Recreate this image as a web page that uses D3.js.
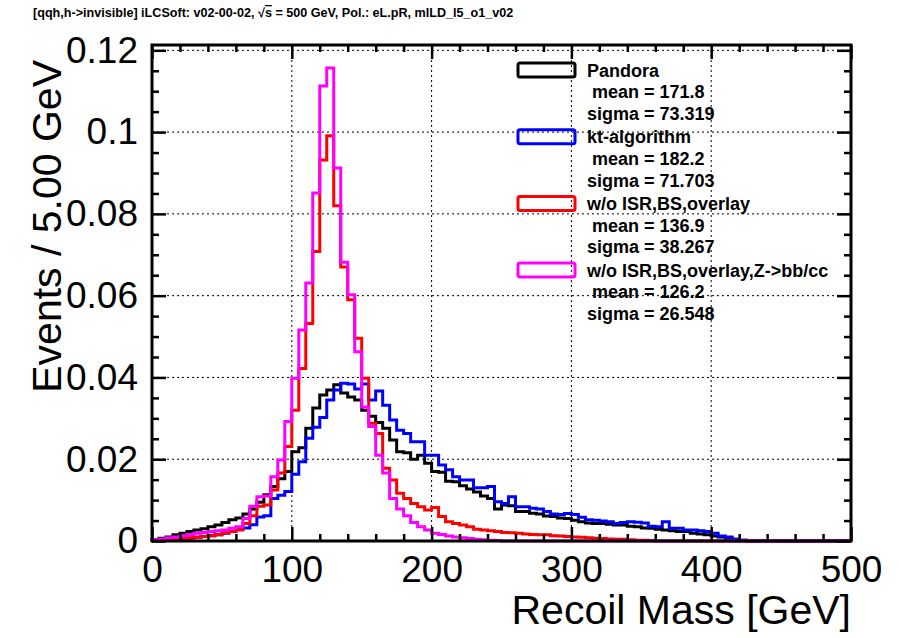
<!DOCTYPE html>
<html>
<head>
<meta charset="utf-8">
<script src="https://cdn.jsdelivr.net/npm/d3@7"></script>
<style>
body { margin: 0; background: #fff; }
text { font-family: "Liberation Sans", Arial, Helvetica, sans-serif; fill: #000; }
</style>
</head>
<body>
<svg id="chart" width="899" height="638"></svg>
<script>
// bins: 100 x 5 GeV from 0 to 500
var binWidth = 5,
    binLow = d3.range(0, 500, binWidth);

// normalised events per bin
var pandora = [
  0.0003,0.0007,0.0010,0.0015,0.0019,0.0023,0.0027,0.0030,0.0035,0.0039,
  0.0045,0.0052,0.0056,0.0066,0.0078,0.0095,0.0113,0.0133,0.0152,0.0170,
  0.0218,0.0228,0.0276,0.0325,0.0357,0.0369,0.0382,0.0362,0.0352,0.0345,
  0.0320,0.0305,0.0290,0.0276,0.0247,0.0218,0.0216,0.0200,0.0210,0.0190,
  0.0170,0.0168,0.0146,0.0145,0.0135,0.0127,0.0120,0.0110,0.0104,0.0078,
  0.0088,0.0086,0.0072,0.0072,0.0068,0.0066,0.0061,0.0060,0.0056,0.0055,
  0.0051,0.0047,0.0044,0.0043,0.0043,0.0041,0.0039,0.0039,0.0036,0.0035,
  0.0032,0.0031,0.0029,0.0027,0.0025,0.0023,0.0023,0.0019,0.0017,0.0015,
  0.0012,0.0010,0.0007,0.0004,0.0002,0,0,0,0,0,
  0,0,0,0,0,0,0,0,0,0];

var ktAlgo = [
  0.0001,0.0002,0.0003,0.0004,0.0005,0.0007,0.0009,0.0011,0.0013,0.0015,
  0.0019,0.0023,0.0028,0.0032,0.0040,0.0059,0.0062,0.0104,0.0112,0.0121,
  0.0163,0.0194,0.0251,0.0278,0.0302,0.0345,0.0369,0.0386,0.0384,0.0372,
  0.0384,0.0345,0.0367,0.0332,0.0296,0.0271,0.0263,0.0243,0.0243,0.0210,
  0.0210,0.0186,0.0174,0.0157,0.0149,0.0149,0.0130,0.0130,0.0133,0.0096,
  0.0092,0.0108,0.0084,0.0084,0.0080,0.0078,0.0072,0.0066,0.0065,0.0067,
  0.0065,0.0058,0.0052,0.0051,0.0049,0.0047,0.0043,0.0045,0.0047,0.0046,
  0.0044,0.0036,0.0035,0.0047,0.0031,0.0031,0.0027,0.0027,0.0025,0.0023,
  0.0019,0.0012,0.0010,0.0004,0.0002,0,0,0,0,0,
  0,0,0,0,0,0,0,0,0,0];

var noOverlay = [
  0.0002,0.0003,0.0004,0.0006,0.0007,0.0008,0.0009,0.0011,0.0013,0.0015,
  0.0020,0.0023,0.0027,0.0043,0.0062,0.0085,0.0088,0.0125,0.0166,0.0231,
  0.0320,0.0422,0.0532,0.0708,0.0932,0.0991,0.0820,0.0670,0.0590,0.0496,
  0.0398,0.0288,0.0263,0.0178,0.0149,0.0117,0.0104,0.0092,0.0084,0.0076,
  0.0082,0.0060,0.0047,0.0043,0.0039,0.0035,0.0029,0.0027,0.0025,0.0023,
  0.0021,0.0020,0.0019,0.0017,0.0016,0.0015,0.0015,0.0013,0.0012,0.0011,
  0.0010,0.0009,0.0008,0.0007,0.0006,0.0005,0.0004,0.0004,0.0003,0.0002,
  0.0002,0.0001,0,0,0,0,0,0,0,0,
  0,0,0,0,0,0,0,0,0,0,
  0,0,0,0,0,0,0,0,0,0];

var noOverlayZbc = [
  0.0003,0.0005,0.0008,0.0010,0.0013,0.0016,0.0019,0.0021,0.0023,0.0025,
  0.0027,0.0031,0.0035,0.0055,0.0085,0.0108,0.0110,0.0157,0.0198,0.0292,
  0.0398,0.0516,0.0631,0.0851,0.1113,0.1157,0.0912,0.0682,0.0602,0.0463,
  0.0328,0.0280,0.0210,0.0166,0.0104,0.0078,0.0062,0.0045,0.0035,0.0027,
  0.0019,0.0016,0.0012,0.0010,0.0008,0.0006,0.0004,0.0003,0.0002,0.0001,
  0,0,0,0,0,0,0,0,0,0,
  0,0,0,0,0,0,0,0,0,0,
  0,0,0,0,0,0,0,0,0,0,
  0,0,0,0,0,0,0,0,0,0,
  0,0,0,0,0,0,0,0,0,0];

var seriesNames = ["Pandora", "kt-algorithm", "w/o ISR,BS,overlay", "w/o ISR,BS,overlay,Z->bb/cc"],
    seriesMeans = ["171.8", "182.2", "136.9", "126.2"],
    seriesSigmas = ["73.319", "71.703", "38.267", "26.548"],
    seriesColors = ["#000000", "#0000ff", "#ff0000", "#ff00ff"];

var xTicks = [0, 100, 200, 300, 400, 500],
    xTickLabels = ["0", "100", "200", "300", "400", "500"],
    yTicks = [0, 0.02, 0.04, 0.06, 0.08, 0.1, 0.12],
    yTickLabels = ["0", "0.02", "0.04", "0.06", "0.08", "0.1", "0.12"];

var margin = {top: 45, right: 48, bottom: 97, left: 152},
    width = 899 - margin.left - margin.right,
    height = 638 - margin.top - margin.bottom;

var svg = d3.select("#chart");
var g = svg.append("g").attr("transform", "translate(" + margin.left + "," + margin.top + ")");

var x = d3.scaleLinear().domain([0, 500]).range([0, width]);
var y = d3.scaleLinear().domain([0, 0.1213]).range([height, 0]);

// grid
g.append("g").selectAll("line").data(xTicks.slice(1, -1)).enter().append("line")
  .attr("x1", function(d) { return x(d); }).attr("x2", function(d) { return x(d); })
  .attr("y1", 0).attr("y2", height)
  .attr("stroke", "#000").attr("stroke-width", 1).attr("stroke-dasharray", "2,3");
g.append("g").selectAll("line").data(yTicks.slice(1)).enter().append("line")
  .attr("y1", function(d) { return y(d); }).attr("y2", function(d) { return y(d); })
  .attr("x1", 0).attr("x2", width)
  .attr("stroke", "#000").attr("stroke-width", 1).attr("stroke-dasharray", "2,3");

// histograms
var line = d3.line()
  .x(function(d) { return x(d[0]); })
  .y(function(d) { return y(d[1]); })
  .curve(d3.curveStepAfter);

[pandora, ktAlgo, noOverlay, noOverlayZbc].forEach(function(vals, k) {
  var pts = [[0, 0]];
  vals.forEach(function(v, i) { pts.push([binLow[i], v]); });
  pts.push([500, vals[vals.length - 1]]);
  pts.push([500, 0]);
  g.append("path")
    .attr("d", line(pts))
    .attr("fill", "none")
    .attr("stroke", seriesColors[k])
    .attr("stroke-width", 3);
});

// axes, ticks on all four sides pointing inwards
function styleAxis(sel) {
  sel.select(".domain").remove();
  sel.selectAll(".tick line").attr("stroke", "#000").attr("stroke-width", 2.5);
  sel.selectAll(".tick text").attr("font-size", 37).attr("fill", "#000");
}
var minorX = d3.range(0, 501, 20).filter(function(d) { return d % 100; });
var minorY = d3.range(0, 0.121, 0.005).filter(function(d) { return Math.round(d * 1000) % 20; });

g.append("g").attr("transform", "translate(0," + height + ")")
  .call(d3.axisBottom(x).tickValues(xTicks).tickSize(-14).tickPadding(15)
    .tickFormat(function(d, i) { return xTickLabels[i]; }))
  .call(styleAxis);
g.append("g").attr("transform", "translate(0," + height + ")")
  .call(d3.axisBottom(x).tickValues(minorX).tickSize(-7).tickFormat(""))
  .call(styleAxis);
g.append("g")
  .call(d3.axisTop(x).tickValues(xTicks).tickSize(-14).tickFormat(""))
  .call(styleAxis);
g.append("g")
  .call(d3.axisTop(x).tickValues(minorX).tickSize(-7).tickFormat(""))
  .call(styleAxis);

g.append("g")
  .call(d3.axisLeft(y).tickValues(yTicks).tickSize(-14).tickPadding(14)
    .tickFormat(function(d, i) { return yTickLabels[i]; }))
  .call(styleAxis);
g.append("g")
  .call(d3.axisLeft(y).tickValues(minorY).tickSize(-7).tickFormat(""))
  .call(styleAxis);
g.append("g").attr("transform", "translate(" + width + ",0)")
  .call(d3.axisRight(y).tickValues(yTicks).tickSize(-14).tickFormat(""))
  .call(styleAxis);
g.append("g").attr("transform", "translate(" + width + ",0)")
  .call(d3.axisRight(y).tickValues(minorY).tickSize(-7).tickFormat(""))
  .call(styleAxis);

// frame
g.append("rect").attr("width", width).attr("height", height)
  .attr("fill", "none").attr("stroke", "#000").attr("stroke-width", 3);

// axis titles
svg.append("text")
  .attr("x", margin.left + width).attr("y", 624)
  .attr("text-anchor", "end").attr("font-size", 41)
  .text("Recoil Mass [GeV]");
svg.append("text")
  .attr("transform", "translate(61," + (margin.top + 15) + ") rotate(-90)")
  .attr("text-anchor", "end").attr("font-size", 41)
  .text("Events / 5.00 GeV");

// title
var title = svg.append("text")
  .attr("x", 33).attr("y", 17)
  .attr("font-size", 12.6).attr("font-weight", "bold");
title.append("tspan").text("[qqh,h->invisible] iLCSoft: v02-00-02,  \u221A");
title.append("tspan").style("text-decoration", "overline").text("s");
title.append("tspan").text(" = 500 GeV, Pol.: eL.pR, mILD_l5_o1_v02");

// legend
var legend = svg.append("g");
seriesNames.forEach(function(name, k) {
  var cy = 70 + k * 66.7;
  legend.append("rect")
    .attr("x", 518).attr("y", cy - 7).attr("width", 57).attr("height", 14)
    .attr("rx", 2).attr("fill", "none")
    .attr("stroke", seriesColors[k]).attr("stroke-width", 3);
  var rows = [name, " mean = " + seriesMeans[k], "sigma = " + seriesSigmas[k]];
  rows.forEach(function(r, j) {
    legend.append("text")
      .attr("x", 587).attr("y", cy + j * 21.7 + 6.5)
      .attr("font-size", 18).attr("font-weight", "bold")
      .style("white-space", "pre")
      .text(r);
  });
});
</script>
</body>
</html>
